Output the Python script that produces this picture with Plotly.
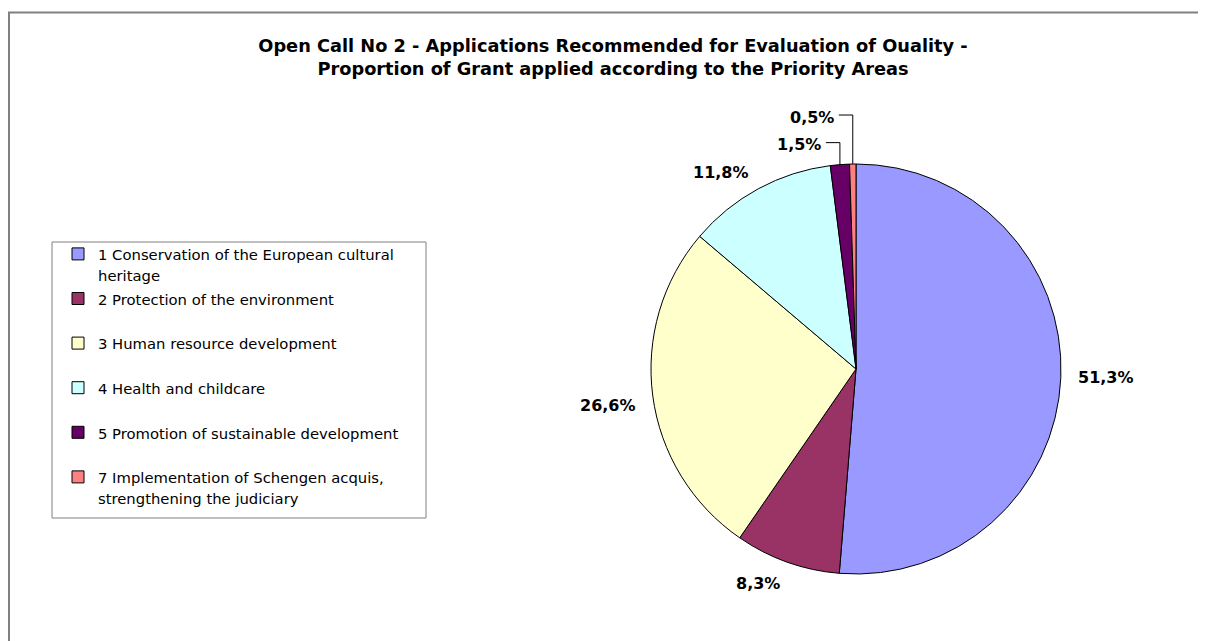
import math

import plotly.graph_objects as go

# Canvas and pie geometry, in screen pixels
W, H = 1206, 641
OX, OY = 8, 8  # page margin around the plot div
CX, CY, R = 856, 369, 205

FONT = "Verdana, DejaVu Sans, sans-serif"

TITLE_LINES = [
    "Open Call No 2 - Applications Recommended for Evaluation of Ouality -",
    "Proportion of Grant applied according to the Priority Areas",
]

# Priority areas, legend text split as in the original
area_lines = [
    ["1 Conservation of the European cultural", "heritage"],
    ["2 Protection of the environment"],
    ["3 Human resource development"],
    ["4 Health and childcare"],
    ["5 Promotion of sustainable development"],
    ["7 Implementation of Schengen acquis,", "strengthening the judiciary"],
]
grant_share = [51.3, 8.3, 26.6, 11.8, 1.5, 0.5]
slice_colors = ["#9999FF", "#993366", "#FFFFCC", "#CCFFFF", "#660066", "#FF8080"]


def px_x(x):
    return (x - OX) / W


def px_y(y):
    return 1 - (y - OY) / H


def legend_label(lines):
    # every entry takes two lines so the entries are evenly spread
    lines = lines + ["\u00a0"] * (2 - len(lines))
    return "<br>".join(f"<span style='font-size:14.8px'>{s}</span>" for s in lines)


labels = [legend_label(lines) for lines in area_lines]

fig = go.Figure(
    go.Pie(
        labels=labels,
        values=grant_share,
        sort=False,
        direction="clockwise",
        rotation=0,
        marker=dict(colors=slice_colors, line=dict(color="black", width=1)),
        textinfo="none",
        hoverinfo="label+percent",
        domain=dict(x=[px_x(CX - R), px_x(CX + R)], y=[px_y(CY + R), px_y(CY - R)]),
    )
)

# Percentage labels placed around the pie from each slice's mid angle
total = sum(grant_share)
shapes = []
annotations = []
cum = 0.0
stack = 0
for v in grant_share:
    frac = v / total
    theta = 2 * math.pi * (cum + frac / 2)
    cum += frac
    s, c = math.sin(theta), math.cos(theta)
    text = f"<b>{v / total * 100:.1f}%</b>".replace(".", ",")
    if frac >= 0.03:
        d = R + 15
        ax, ay = CX + d * s, CY - d * c
        if abs(c) < 0.1:
            yanchor = "middle"
        elif c > 0:
            yanchor, ay = "bottom", ay + 8
        else:
            yanchor, ay = "top", ay - 4
        annotations.append(dict(
            x=px_x(ax), y=px_y(ay), xref="paper", yref="paper",
            text=text, showarrow=False,
            xanchor="left" if s > 0 else "right",
            yanchor=yanchor,
            font=dict(family=FONT, size=16, color="black"),
        ))
    else:
        # small slices: leader line up from the rim, then left to the label
        stack += 1
        ex, ey = CX + R * s, CY - R * c
        top = ey - 22 - 27 * (stack - 1)
        shapes.append(dict(type="line", xref="paper", yref="paper",
                           x0=px_x(ex), y0=px_y(ey), x1=px_x(ex), y1=px_y(top),
                           line=dict(color="black", width=1)))
        shapes.append(dict(type="line", xref="paper", yref="paper",
                           x0=px_x(ex), y0=px_y(top), x1=px_x(ex - 14), y1=px_y(top),
                           line=dict(color="black", width=1)))
        annotations.append(dict(
            x=px_x(ex - 17), y=px_y(top + 2), xref="paper", yref="paper",
            text=text, showarrow=False, xanchor="right", yanchor="middle",
            font=dict(family=FONT, size=16, color="black"),
        ))

# chart border (left and top edges visible) and legend box
shapes.append(dict(type="rect", xref="paper", yref="paper",
                   x0=px_x(9), y0=px_y(12.5), x1=1.05, y1=-0.05,
                   line=dict(color="#808080", width=2), layer="below"))
shapes.append(dict(type="rect", xref="paper", yref="paper",
                   x0=px_x(52), y0=px_y(242), x1=px_x(426), y1=px_y(518),
                   line=dict(color="#808080", width=1), layer="below"))

fig.update_layout(
    width=W,
    height=H,
    margin=dict(l=0, r=0, t=0, b=0),
    paper_bgcolor="white",
    plot_bgcolor="white",
    title=dict(
        text="<br>".join(f"<b>{t}</b>" for t in TITLE_LINES),
        x=px_x(613),
        xanchor="center",
        y=px_y(52),
        yanchor="top",
        font=dict(family=FONT, size=17.75, color="black"),
    ),
    showlegend=True,
    legend=dict(
        x=px_x(58),
        xanchor="left",
        y=px_y(237),
        yanchor="top",
        bgcolor="rgba(0,0,0,0)",
        borderwidth=0,
        valign="top",
        font=dict(family=FONT, size=16, color="black"),
    ),
    shapes=shapes,
    annotations=annotations,
)

fig.write_html("out.html")
